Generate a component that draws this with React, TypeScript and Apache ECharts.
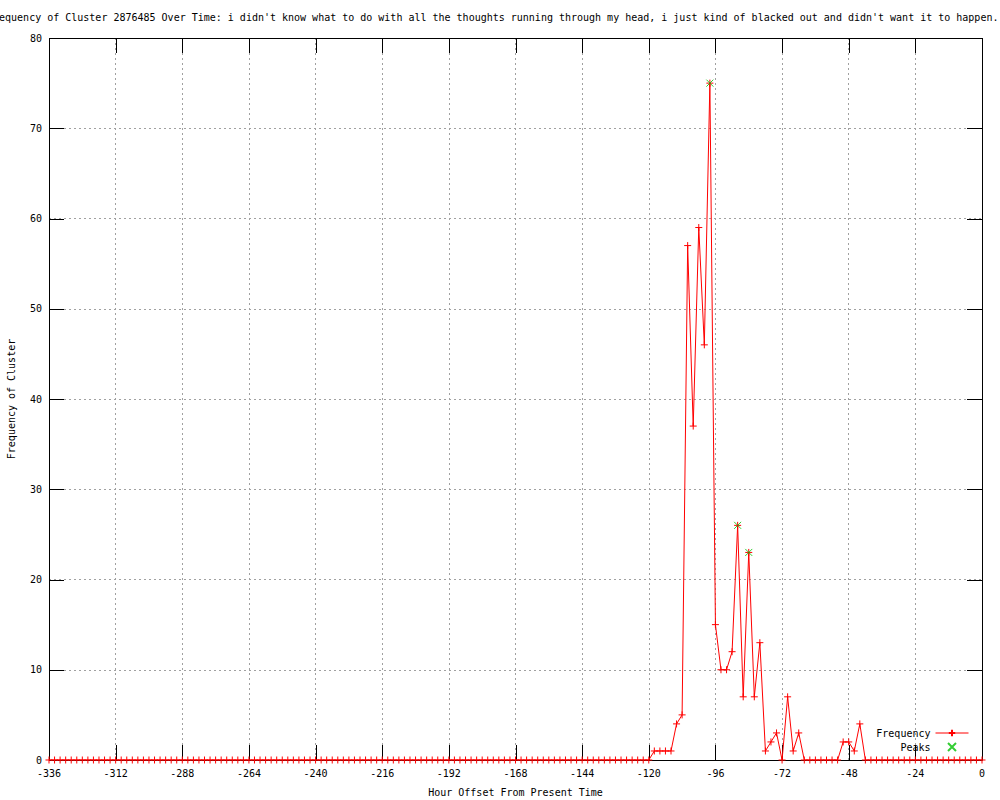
import React, { useEffect, useRef } from "react";
import * as echarts from "echarts";

const titleText =
  "Frequency of Cluster 2876485 Over Time: i didn't know what to do with all the thoughts running through my head, i just kind of blacked out and didn't want it to happen.";

const hours = [
  -336, -334, -332, -330, -328, -326, -324, -322, -320, -318, -316, -314, -312, -310, -308, -306,
  -304, -302, -300, -298, -296, -294, -292, -290, -288, -286, -284, -282, -280, -278, -276, -274,
  -272, -270, -268, -266, -264, -262, -260, -258, -256, -254, -252, -250, -248, -246, -244, -242,
  -240, -238, -236, -234, -232, -230, -228, -226, -224, -222, -220, -218, -216, -214, -212, -210,
  -208, -206, -204, -202, -200, -198, -196, -194, -192, -190, -188, -186, -184, -182, -180, -178,
  -176, -174, -172, -170, -168, -166, -164, -162, -160, -158, -156, -154, -152, -150, -148, -146,
  -144, -142, -140, -138, -136, -134, -132, -130, -128, -126, -124, -122, -120, -118, -116, -114,
  -112, -110, -108, -106, -104, -102, -100, -98, -96, -94, -92, -90, -88, -86, -84, -82,
  -80, -78, -76, -74, -72, -70, -68, -66, -64, -62, -60, -58, -56, -54, -52, -50,
  -48, -46, -44, -42, -40, -38, -36, -34, -32, -30, -28, -26, -24, -22, -20, -18,
  -16, -14, -12, -10, -8, -6, -4, -2, 0,
];

const frequency = [
  0, 0, 0, 0, 0, 0, 0, 0, 0, 0, 0, 0, 0, 0, 0, 0,
  0, 0, 0, 0, 0, 0, 0, 0, 0, 0, 0, 0, 0, 0, 0, 0,
  0, 0, 0, 0, 0, 0, 0, 0, 0, 0, 0, 0, 0, 0, 0, 0,
  0, 0, 0, 0, 0, 0, 0, 0, 0, 0, 0, 0, 0, 0, 0, 0,
  0, 0, 0, 0, 0, 0, 0, 0, 0, 0, 0, 0, 0, 0, 0, 0,
  0, 0, 0, 0, 0, 0, 0, 0, 0, 0, 0, 0, 0, 0, 0, 0,
  0, 0, 0, 0, 0, 0, 0, 0, 0, 0, 0, 0, 0, 1, 1, 1,
  1, 4, 5, 57, 37, 59, 46, 75, 15, 10, 10, 12, 26, 7, 23, 7,
  13, 1, 2, 3, 0, 7, 1, 3, 0, 0, 0, 0, 0, 0, 0, 2,
  2, 1, 4, 0, 0, 0, 0, 0, 0, 0, 0, 0, 0, 0, 0, 0,
  0, 0, 0, 0, 0, 0, 0, 0, 0,
];

const peakHours = [-98, -88, -84];
const peakValues = [75, 26, 23];

const xTicks = [-336, -312, -288, -264, -240, -216, -192, -168, -144, -120, -96, -72, -48, -24, 0];
const yTicks = [0, 10, 20, 30, 40, 50, 60, 70, 80];

const FONT = "DejaVu Sans Mono";
const RED = "#ff0000";
const GREEN = "#00c000";
const TICK_LEN = 15;

const crisp = (v: number) => Math.round(v) + 0.5;

export default function App() {
  const ref = useRef<HTMLDivElement>(null);

  useEffect(() => {
    if (!ref.current) return;
    const chart = echarts.init(ref.current, null, { renderer: "svg" });

    const freqData = hours.map((h, i) => [h, frequency[i]]);
    const peakData = peakHours.map((h, i) => [h, peakValues[i]]);

    const xMin = xTicks[0];
    const xMax = xTicks[xTicks.length - 1];
    const yMin = yTicks[0];
    const yMax = yTicks[yTicks.length - 1];

    const textStyle = { fontFamily: FONT, fontSize: 10, color: "#000" };
    const gridLine = { show: true, lineStyle: { color: "#a0a0a0", type: [2, 3], width: 1 } };
    const lineStyle = { stroke: "#000", lineWidth: 1 };

    chart.setOption({
      animation: false,
      backgroundColor: "#ffffff",
      textStyle: { fontFamily: FONT },
      graphic: [
        {
          type: "text",
          left: -13,
          top: 12,
          style: { text: titleText, font: `10px "${FONT}"`, fill: "#000" },
        },
      ],
      grid: {
        left: 49,
        right: 18,
        top: 38,
        bottom: 40,
        show: false,
        containLabel: false,
        outerBoundsMode: "none",
      },
      legend: {
        orient: "vertical",
        align: "right",
        right: 26,
        top: 723,
        itemWidth: 33,
        itemHeight: 8,
        itemGap: 4,
        textStyle: { ...textStyle },
        lineStyle: { width: 1 },
        data: ["Frequency", "Peaks"],
      },
      xAxis: {
        type: "value",
        min: xMin,
        max: xMax,
        interval: 24,
        position: "bottom",
        name: "Hour Offset From Present Time",
        nameLocation: "middle",
        nameGap: 27,
        nameTextStyle: { ...textStyle },
        axisLine: { show: false, onZero: false },
        axisTick: { show: false },
        axisLabel: { ...textStyle, margin: 8 },
        splitLine: gridLine,
      },
      yAxis: {
        type: "value",
        min: yMin,
        max: yMax,
        interval: 10,
        position: "left",
        name: "Frequency of Cluster",
        nameLocation: "middle",
        nameGap: 33,
        nameRotate: 90,
        nameTextStyle: { ...textStyle },
        axisLine: { show: false, onZero: false },
        axisTick: { show: false },
        axisLabel: { ...textStyle, margin: 7 },
        splitLine: gridLine,
      },
      series: [
        {
          name: "frame",
          type: "custom",
          silent: true,
          clip: false,
          z: 6,
          data: [[xMin, yMin]],
          renderItem: (_params: any, api: any) => {
            const a = api.coord([xMin, yMin]);
            const b = api.coord([xMax, yMax]);
            const x1 = crisp(a[0]);
            const y1 = crisp(a[1]);
            const x2 = crisp(b[0]);
            const y2 = crisp(b[1]);
            return {
              type: "polygon",
              shape: { points: [[x1, y1], [x2, y1], [x2, y2], [x1, y2]] },
              style: { fill: "none", stroke: "#000", lineWidth: 1 },
            };
          },
        },
        {
          name: "xticks",
          type: "custom",
          silent: true,
          clip: false,
          z: 6,
          data: xTicks.map((v) => [v, yMin]),
          renderItem: (_params: any, api: any) => {
            const v = api.value(0);
            const b = api.coord([v, yMin]);
            const t = api.coord([v, yMax]);
            const x = crisp(b[0]);
            return {
              type: "group",
              children: [
                { type: "line", shape: { x1: x, y1: b[1], x2: x, y2: b[1] - TICK_LEN }, style: lineStyle },
                { type: "line", shape: { x1: x, y1: t[1], x2: x, y2: t[1] + TICK_LEN }, style: lineStyle },
              ],
            };
          },
        },
        {
          name: "yticks",
          type: "custom",
          silent: true,
          clip: false,
          z: 6,
          data: yTicks.map((v) => [xMin, v]),
          renderItem: (_params: any, api: any) => {
            const v = api.value(1);
            const l = api.coord([xMin, v]);
            const r = api.coord([xMax, v]);
            const y = crisp(l[1]);
            return {
              type: "group",
              children: [
                { type: "line", shape: { x1: l[0], y1: y, x2: l[0] + TICK_LEN, y2: y }, style: lineStyle },
                { type: "line", shape: { x1: r[0], y1: y, x2: r[0] - TICK_LEN, y2: y }, style: lineStyle },
              ],
            };
          },
        },
        {
          name: "Frequency",
          type: "line",
          data: freqData,
          symbol: "path://M5,0L5,10M0,5L10,5",
          symbolSize: 7,
          showSymbol: true,
          lineStyle: { color: RED, width: 1 },
          itemStyle: { color: RED, borderColor: RED, borderWidth: 1 },
          emphasis: { disabled: true },
          z: 7,
        },
        {
          name: "Peaks",
          type: "scatter",
          data: peakData,
          symbol: "path://M0,0L10,10M10,0L0,10",
          symbolSize: 7,
          itemStyle: { color: GREEN, borderColor: GREEN, borderWidth: 1 },
          emphasis: { disabled: true },
          z: 8,
        },
      ],
    });

    return () => chart.dispose();
  }, []);

  return <div ref={ref} style={{ width: 1000, height: 800, position: "absolute", left: 0, top: 0 }} />;
}
